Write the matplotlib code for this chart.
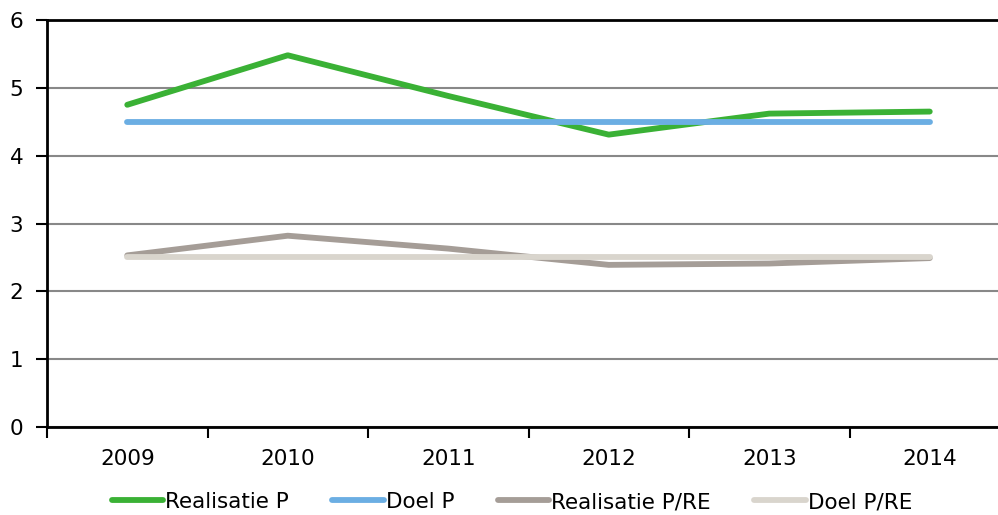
import numpy as np
import matplotlib
matplotlib.use("Agg")
import matplotlib.pyplot as plt
from matplotlib.ticker import FixedLocator

years = ["2009", "2010", "2011", "2012", "2013", "2014"]
realisatie_p = [4.75, 5.48, 4.88, 4.31, 4.62, 4.65]
doel_p = [4.5, 4.5, 4.5, 4.5, 4.5, 4.5]
realisatie_pre = [2.53, 2.82, 2.63, 2.39, 2.41, 2.49]
doel_pre = [2.5, 2.5, 2.5, 2.5, 2.5, 2.5]

plt.rcParams['font.family'] = ['DejaVu Sans']

fig = plt.figure(figsize=(9.98, 5.15), dpi=100)
ax = fig.add_axes([47/998, 1-427/515, (1010-47)/998, (427-20)/515])

x = np.arange(len(years))
lw = 4.2
ax.plot(x, realisatie_p, color='#3AB135', lw=lw, solid_capstyle='round', label='Realisatie P', zorder=3)
ax.plot(x, doel_p, color='#6BAEE3', lw=lw, solid_capstyle='round', label='Doel P', zorder=3)
ax.plot(x, realisatie_pre, color='#A59D97', lw=lw, solid_capstyle='round', label='Realisatie P/RE', zorder=3)
ax.plot(x, doel_pre, color='#D9D5CD', lw=lw, solid_capstyle='round', label='Doel P/RE', zorder=3)

ax.set_xlim(-0.5, len(years) - 0.5)
ax.set_ylim(0, 6)
ax.set_yticks(range(0, 7))
ax.yaxis.grid(True, color='#888888', lw=1.5)
ax.set_axisbelow(True)

ax.set_xticks(x)
ax.set_xticklabels(years)
ax.xaxis.set_minor_locator(FixedLocator(np.arange(-0.5, len(years), 1.0)))
ax.tick_params(axis='x', which='major', length=0, pad=16, labelsize=15.5)
ax.tick_params(axis='x', which='minor', length=8, width=1.5, direction='out')
ax.tick_params(axis='y', length=8, width=1.5, pad=9, labelsize=15.5)

for side in ['left', 'bottom', 'top']:
    ax.spines[side].set_linewidth(2)
    ax.spines[side].set_color('black')
ax.spines['right'].set_visible(False)

fig.legend(loc='center', bbox_to_anchor=(0.513, 1-502/515), ncol=4, frameon=False,
           fontsize=15.5, handlelength=2.4, handletextpad=0.1, columnspacing=2.0)

fig.savefig('out.png', dpi=100)
